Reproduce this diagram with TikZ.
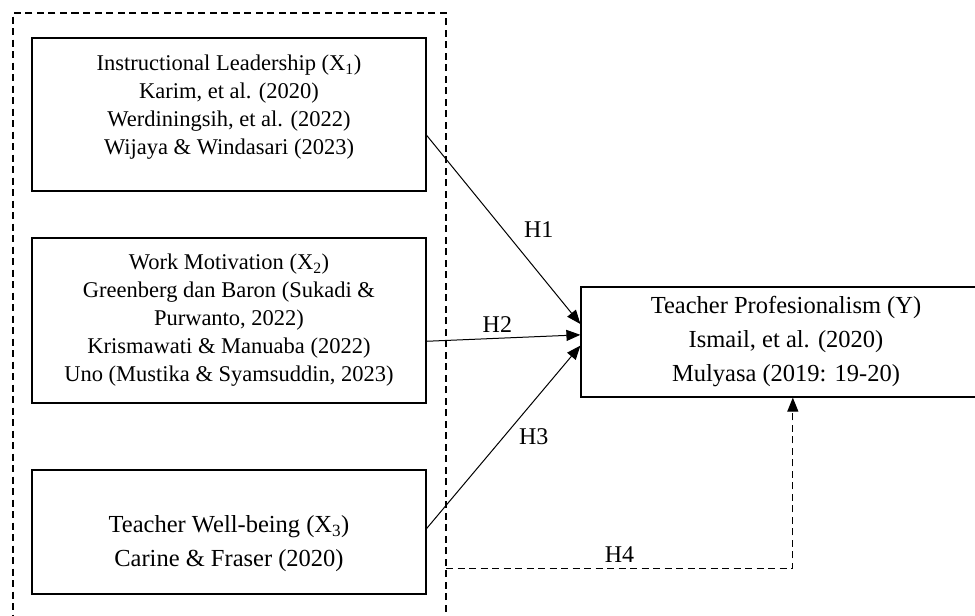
\documentclass[tikz,border=0pt]{standalone}
\usepackage{fontspec}
\setmainfont{Liberation Serif}
\usetikzlibrary{arrows.meta, calc}
\tikzset{
  every picture/.style={line width=1pt},
  box/.style={draw, rectangle, align=center, inner sep=0pt, minimum width=394pt, line width=1.2pt},
  small/.style={font=\fontsize{22.5}{28}\selectfont},
  big/.style={font=\fontsize{24.5}{34}\selectfont},
  arrow/.style={-{Triangle[length=14pt, width=11pt]}, line width=1pt},
  dasharrow/.style={arrow, dash pattern=on 7pt off 4.5pt},
  frame/.style={draw, dash pattern=on 7pt off 4.5pt, line width=1.1pt, inner sep=0pt},
  hyp/.style={font=\fontsize{24}{28}\selectfont, inner sep=0pt},
}

\begin{document}
\begin{tikzpicture}[x=1pt, y=-1pt]
  \useasboundingbox (0,0) rectangle (975,616);
  \clip (0,0) rectangle (975,616);
  % independent variables, grouped in a dashed frame
  \node[frame, minimum width=433pt, minimum height=637pt] (frame) at (229.5,331.5) {};
  \node[box, small, minimum height=153pt] (x1) at (229,114.5) {Instructional Leadership (X\textsubscript{1})\\ Karim, et al. (2020)\\ Werdiningsih, et al. (2022)\\ Wijaya \& Windasari (2023)\rule[-19pt]{0pt}{19pt}};
  \node[box, small, minimum height=165pt] (x2) at (229,320.5) {Work Motivation (X\textsubscript{2})\\ Greenberg dan Baron (Sukadi \&\\ Purwanto, 2022)\\ Krismawati \& Manuaba (2022)\\ Uno (Mustika \& Syamsuddin, 2023)};
  \node[box, big, minimum height=124pt] (x3) at (229,532) {\rule{0pt}{41pt}Teacher Well-being (X\textsubscript{3})\\ Carine \& Fraser (2020)};
  % dependent variable
  \node[box, big, minimum width=410pt, minimum height=110pt] (y) at (786,342) {Teacher Profesionalism (Y)\\ Ismail, et al. (2020)\\ Mulyasa (2019: 19-20)};
  \draw[arrow] (x1.-6) -- (y.175) node[midway, right=20pt, hyp] {H1};
  \draw[arrow] (x2.-6) -- (y.178) node[pos=0.46, above=5pt, hyp] {H2};
  \draw[arrow] (x3.1.5) -- (y.181.7) node[midway, right=15pt, hyp] {H3};
  \coordinate (h4) at (446,568);
  \draw[dasharrow] (h4) -| (y.-83) node[pos=0.25, above=5pt, hyp] {H4};
\end{tikzpicture}
\end{document}
